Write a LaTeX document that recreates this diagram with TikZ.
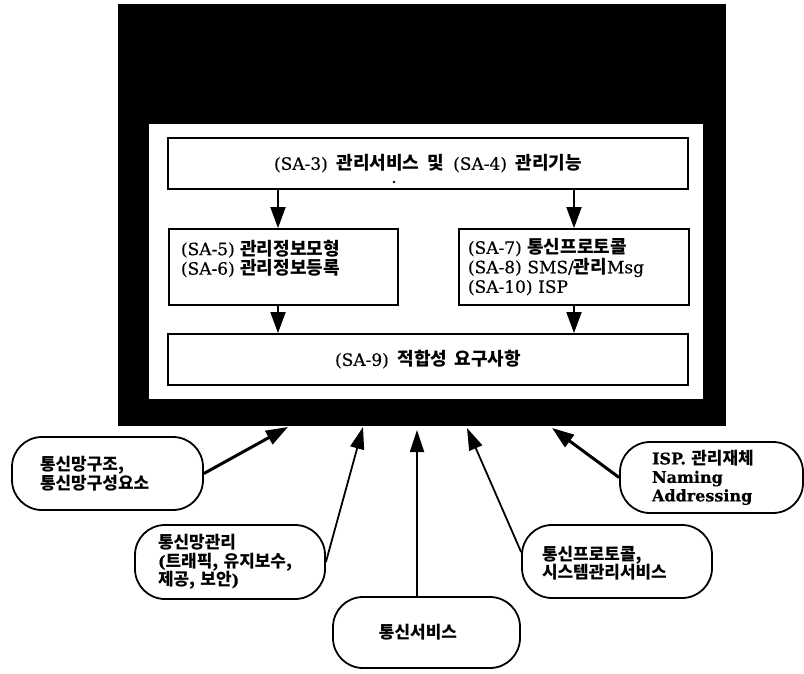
\documentclass[tikz,border=0pt]{standalone}
\usepackage{fontspec}
\setmainfont[FakeBold=0.4,WordSpace=1.6]{DejaVu Serif}
\newfontfamily\kr[Scale=1.06,WordSpace=1.8]{Noto Sans CJK KR}
\usetikzlibrary{arrows.meta}
\newcommand{\K}[1]{{\kr\bfseries #1}}
\begin{document}
\begin{tikzpicture}[x=1pt,y=-1pt,
  box/.style={draw, line width=1.8pt, inner sep=0pt, font=\fontsize{17}{19.5}\selectfont},
  flow/.style={line width=1.8pt, -{Triangle[width=15pt,length=21pt]}},
  bubble/.style={draw, line width=1.8pt, rounded corners=30pt, inner sep=0pt,
    font=\fontsize{16}{18.5}\selectfont\bfseries, align=left},
  feed/.style={line width=1.8pt, -{Triangle[width=14pt,length=22pt]}},
  feedthick/.style={line width=3pt, -{Triangle[width=15pt,length=22pt]}}]
\useasboundingbox (0,0) rectangle (804,673);
% frame
\fill[black] (118,4) rectangle (726,426);
\fill[white] (149,124) rectangle (703,399);
% boxes
\node[box, minimum width=520pt, minimum height=51pt] (top) at (428,163.5)
  {(SA-3) \K{관리서비스} \K{및} (SA-4) \K{관리기능}\hspace{34pt}};
\fill (394,182) circle (1.3pt);
\node[box, minimum width=229pt, minimum height=76pt, text width=205pt, align=left] (sa5) at (283.5,267)
  {(SA-5) \K{관리정보모형}\\(SA-6) \K{관리정보등록}\\\mbox{}};
\node[box, minimum width=230pt, minimum height=76pt, text width=212pt, align=left] (sa7) at (574,267)
  {(SA-7) \K{통신프로토콜}\\(SA-8) SMS/\K{관리}Msg\\(SA-10) ISP};
\node[box, minimum width=520pt, minimum height=51pt] (sa9) at (428,359.5)
  {(SA-9) \K{적합성 요구사항}\hspace{20pt}};
% internal flow
\draw[flow] ([xshift=-5.5pt]sa5.north |- top.south) -- ([xshift=-5.5pt]sa5.north);
\draw[flow] (sa7.north |- top.south) -- (sa7.north);
\draw[flow] ([xshift=-5.5pt]sa5.south) -- ([xshift=-5.5pt]sa5.south |- sa9.north);
\draw[flow] (sa7.south) -- (sa7.south |- sa9.north);
% bubbles
\node[bubble, minimum width=191pt, minimum height=73pt, text width=135pt] (e1) at (107.5,473.5)
  {\K{통신망구조,}\\\K{통신망구성요소}};
\node[bubble, minimum width=190pt, minimum height=74pt, text width=144pt] (e2) at (230,562)
  {\K{통신망관리}\\(\K{트래픽, 유지보수,}\\\K{제공, 보안})};
\node[bubble, minimum width=187pt, minimum height=71pt, align=center] (e3) at (426.5,632.5)
  {\K{통신서비스}\hspace{17pt}};
\node[bubble, minimum width=190pt, minimum height=73pt, text width=150pt, text depth=17pt] (e4) at (617,561.5)
  {\K{통신프로토콜,}\\\K{시스템관리서비스}};
\node[bubble, minimum width=183pt, minimum height=71pt, text width=119pt] (e5) at (711.5,477.5)
  {ISP. \K{관리재체}\\Naming\\Addressing};
% targets on frame
\coordinate (t1) at (288,427);
\coordinate (t2) at (363,427);
\coordinate (t3) at (417,430);
\coordinate (t4) at (467,428);
\coordinate (t5) at (552,428);
\draw[feedthick] (e1.east) -- (t1);
\draw[feed] (e2.east) -- (t2);
\draw[feed] ([xshift=-9.5pt]e3.north) -- (t3);
\draw[feed] ([yshift=9.5pt]e4.west) -- (t4);
\draw[feedthick] (e5.west) -- (t5);
\end{tikzpicture}
\end{document}
